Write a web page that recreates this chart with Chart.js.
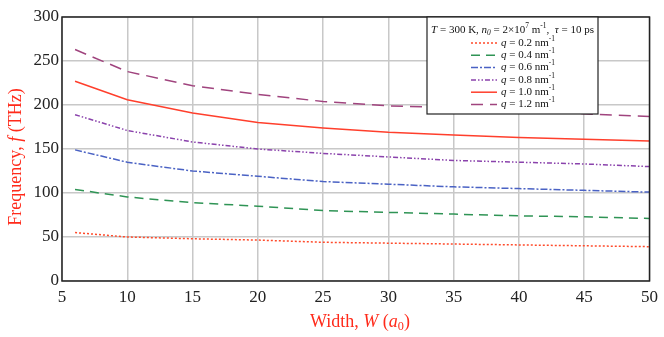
<!DOCTYPE html>
<html><head><meta charset="utf-8">
<script src="https://cdn.jsdelivr.net/npm/chart.js@4/dist/chart.umd.min.js"></script>
<style>html,body{margin:0;padding:0;background:#fff}#wrap{width:664px;height:337px;position:relative}</style>
</head><body><div id="wrap"><canvas id="c"></canvas></div>
<script>
// ---- data ----
const widths = [6, 10, 15, 20, 25, 30, 35, 40, 45, 50];
const q02 = [55, 50, 48, 46.5, 44, 43, 42, 41, 40, 39];
const q04 = [104, 95.5, 89, 85, 80, 78, 76, 74, 73, 71];
const q06 = [149, 135, 125, 119, 113, 110, 107, 105, 103, 101];
const q08 = [189, 171, 158, 150, 145, 141, 137, 135, 133, 130];
const q10 = [227, 206, 191, 180, 174, 169, 166, 163, 161, 159];
const q12 = [263, 238, 222, 212, 204, 199, 197, 194, 190, 187];
const qLabels = ['0.2', '0.4', '0.6', '0.8', '1.0', '1.2'];
const xTicks = [5, 10, 15, 20, 25, 30, 35, 40, 45, 50];
const yTicks = [0, 50, 100, 150, 200, 250, 300];

const series = [q02, q04, q06, q08, q10, q12];
const colors = ['#ff4a2a', '#2f9455', '#4a62c4', '#8a42ac', '#ff3f2c', '#a0447e'];
const dashes = [[2, 2], [9, 6], [7, 2, 2, 2], [5, 2, 1.5, 2, 1.5, 2], [], [12, 7]];
const FONT = '"Liberation Serif", "Times New Roman", serif';

function drawRuns(ctx, runs, x, y, size, align) {
  const parts = runs.map(r => {
    const st = r[1] || '';
    const small = st.includes('sub') || st.includes('sup');
    const fs = small ? size * 0.68 : size;
    const font = (st.includes('i') && !st.startsWith('s') || st.startsWith('i') ? 'italic ' : '') + fs + 'px ' + FONT;
    ctx.font = font;
    const w = ctx.measureText(r[0]).width;
    const dy = st.includes('sub') ? size * 0.25 : (st.includes('sup') ? -size * 0.38 : 0);
    return { t: r[0], font, w, dy };
  });
  const total = parts.reduce((a, p) => a + p.w, 0);
  let cx = align === 'center' ? x - total / 2 : x;
  ctx.textBaseline = 'middle';
  ctx.textAlign = 'left';
  for (const p of parts) {
    ctx.font = p.font;
    ctx.fillText(p.t, cx, y + p.dy);
    cx += p.w;
  }
}

const deco = {
  id: 'deco',
  afterDatasetsDraw(chart) {
    const ctx = chart.ctx, a = chart.chartArea;
    ctx.save();
    // frame
    ctx.strokeStyle = '#222'; ctx.lineWidth = 1.5; ctx.setLineDash([]);
    ctx.strokeRect(a.left, a.top, a.right - a.left, a.bottom - a.top);
    // legend box
    const bx = 427, by = a.top, bw = 171, bh = 97;
    ctx.fillStyle = '#fff';
    ctx.fillRect(bx, by, bw, bh);
    ctx.strokeStyle = '#222'; ctx.lineWidth = 1.2;
    ctx.strokeRect(bx, by, bw, bh);
    ctx.fillStyle = '#111';
    drawRuns(ctx, [['T', 'i'], [' = 300 K, '], ['n', 'i'], ['0', 'isub'], [' = 2×10'], ['7', 'sup'], [' m'], ['-1', 'sup'], [',  '], ['τ', 'i'], [' = 10 ps']], bx + bw / 2, by + 13, 11, 'center');
    chart.data.datasets.forEach((ds, i) => {
      const yy = by + 26 + i * 12.3;
      ctx.strokeStyle = ds.borderColor; ctx.lineWidth = 1.5;
      ctx.setLineDash(ds.borderDash || []);
      ctx.beginPath(); ctx.moveTo(471, yy); ctx.lineTo(497, yy); ctx.stroke();
      ctx.fillStyle = '#111';
      drawRuns(ctx, [['q', 'i'], [' = ' + qLabels[i] + ' nm'], ['-1', 'sup']], 501, yy, 11, 'left');
    });
    ctx.restore();
  },
  afterDraw(chart) {
    const ctx = chart.ctx;
    ctx.save();
    ctx.fillStyle = '#ff2a1a';
    drawRuns(ctx, [['Width, '], ['W', 'i'], [' ('], ['a', 'i'], ['0', 'sub'], [')']], 360, 322, 18, 'center');
    ctx.translate(16, 157);
    ctx.rotate(-Math.PI / 2);
    drawRuns(ctx, [['Frequency, '], ['f', 'i'], [' (THz)']], 0, 0, 18, 'center');
    ctx.restore();
  }
};

new Chart(document.getElementById('c'), {
  type: 'line',
  data: {
    datasets: series.map((s, i) => ({
      label: 'q = ' + qLabels[i] + ' nm-1',
      data: s.map((v, k) => ({ x: widths[k], y: v })),
      borderColor: colors[i],
      borderDash: dashes[i],
      borderWidth: 1.5,
      pointRadius: 0,
      tension: 0,
      fill: false
    }))
  },
  options: {
    responsive: true,
    maintainAspectRatio: false,
    animation: false,
    layout: { padding: { top: 17, right: 9, left: 0, bottom: 0 } },
    plugins: { legend: { display: false }, tooltip: { enabled: false } },
    scales: {
      x: {
        type: 'linear', min: 5, max: 50,
        afterBuildTicks: s => { s.ticks = xTicks.map(v => ({ value: v })); },
        afterFit: s => { s.height = 56; },
        grid: { color: '#c8c8c8', lineWidth: 1.5, drawTicks: false },
        border: { display: false },
        ticks: { color: '#222', font: { family: FONT, size: 17 }, padding: 6, maxRotation: 0 }
      },
      y: {
        type: 'linear', min: 0, max: 300,
        afterBuildTicks: s => { s.ticks = yTicks.map(v => ({ value: v })); },
        afterFit: s => { s.width = 62; },
        grid: { color: '#c8c8c8', lineWidth: 1.5, drawTicks: false },
        border: { display: false },
        ticks: { color: '#222', font: { family: FONT, size: 17 }, padding: 3 }
      }
    }
  },
  plugins: [deco]
});
</script>
</body></html>
